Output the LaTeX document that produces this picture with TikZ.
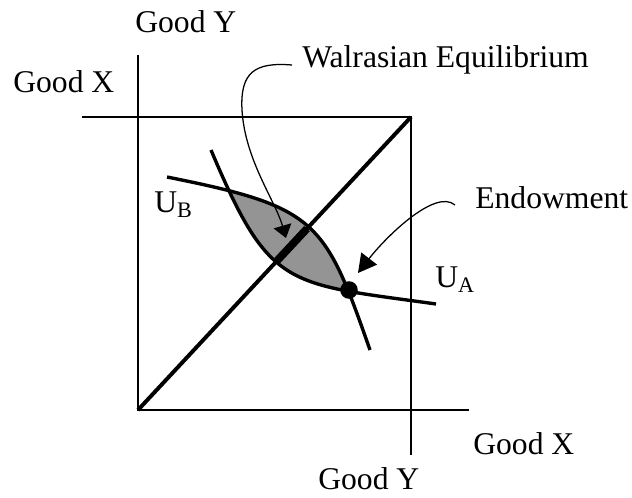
\documentclass[tikz,border=0pt]{standalone}
\usepackage{fontspec}
\setmainfont{Liberation Serif}
\usetikzlibrary{arrows.meta, calc, positioning}

\begin{document}
\begin{tikzpicture}[x=0.025cm, y=-0.025cm,
    box/.style={line width=1.4pt},
    icurve/.style={line width=2.4pt},
    leader/.style={line width=0.9pt},
    lbl/.style={inner sep=0pt, anchor=base west, font=\fontsize{22.5}{27}\selectfont}]

    \useasboundingbox (0,0) rectangle (632,498);

    % =================================================================
    % 1. ORIGINS OF THE BOX AND ARROW TIPS
    % =================================================================
    \coordinate (OA) at (138,410);
    \coordinate (OB) at (411,117);
    \coordinate (WalTip) at (286,238);
    \coordinate (EndTip) at (358,273);

    % =================================================================
    % 2. SHADED LENS BETWEEN THE TWO INDIFFERENCE CURVES
    % =================================================================
    \begin{scope}
        \clip (167,177) .. controls (317,207) and (324.5,220) .. (370,350) -- (150,350) -- cycle;
        \fill[black!42] (211,150) .. controls (270,290) and (286,283) .. (436,304) -- (436,140) -- cycle;
    \end{scope}

    % =================================================================
    % 3. EDGEWORTH BOX AND DIAGONAL
    % =================================================================
    \draw[box] (138,55) -- (OA) -- (469,410);
    \draw[box] (82,117) -- (OB) -- (411,455);
    \draw[line width=2.8pt] (OA) -- (OB);

    % core: part of the diagonal inside the lens
    \draw[line width=5.5pt] ($(OA)!0.509!(OB)$) -- ($(OA)!0.619!(OB)$);

    % =================================================================
    % 4. INDIFFERENCE CURVES
    % =================================================================
    \draw[icurve] (167,177) .. controls (317,207) and (324.5,220) .. (370,350);
    \draw[icurve] (211,150) .. controls (270,290) and (286,283) .. (436,304);

    % endowment point
    \node[circle, fill=black, inner sep=0pt, minimum size=12.5pt] (EndPt) at (349,290) {};

    % =================================================================
    % 5. LABELS
    % =================================================================
    \node[lbl] (GoodYtop) at (135,33) {Good Y};
    \node[lbl] (GoodXtop) at (13,93) {Good X};
    \node[lbl] (Walras) at (302,68) {Walrasian Equilibrium};
    \node[lbl] (Endow) at (475,209) {Endowment};
    \node[lbl] (UA) at (435,288) {U\textsubscript{A}};
    \node[lbl] (UB) at (154,213) {U\textsubscript{B}};
    \node[lbl] (GoodXbot) at (473,454) {Good X};
    \node[lbl] (GoodYbot) at (318,489) {Good Y};

    % =================================================================
    % 6. LEADER ARROWS
    % =================================================================
    \draw[leader, -{Triangle[length=9pt, width=13pt]}]
        ($(Walras.base west)+(-10,-3)$) .. controls (255,62) and (240,72) .. (242,110)
        .. controls (245,160) and (275,200) .. (WalTip);
    \draw[leader, -{Triangle[length=13pt, width=14pt]}]
        ($(Endow.base west)+(-20,-4)$) .. controls (435,188) and (385,238) .. (EndTip);

\end{tikzpicture}
\end{document}
